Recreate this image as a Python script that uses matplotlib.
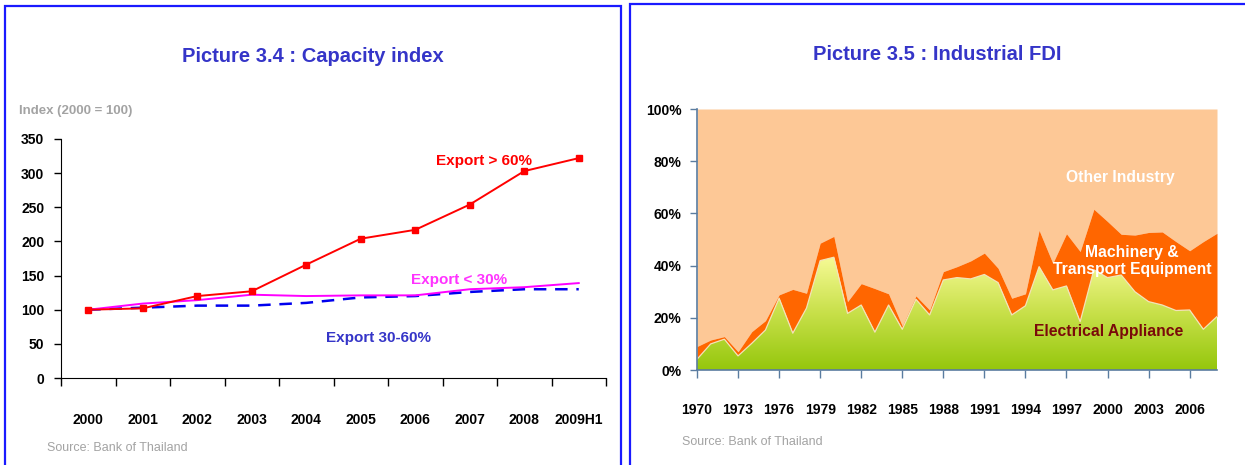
import numpy as np
import matplotlib
matplotlib.use("Agg")
import matplotlib.pyplot as plt
from matplotlib.colors import LinearSegmentedColormap
from matplotlib.patches import Rectangle

plt.rcParams['font.family'] = ['Liberation Sans', 'DejaVu Sans']

# capacity index (2000 = 100)
cap_years = ['2000', '2001', '2002', '2003', '2004', '2005', '2006', '2007', '2008', '2009H1']
export_over_60 = [100, 102, 120, 127, 166, 204, 217, 254, 303, 322]
export_under_30 = [100, 109, 114, 122, 120, 121, 121, 130, 133, 139]
export_30_60 = [100, 103, 106, 106, 110, 118, 120, 126, 130, 130]

# industrial FDI shares (%)
fdi_years = list(range(1970, 2009))
electrical = [4.1, 10.0, 11.8, 5.4, 10.2, 15.3, 27.5, 14.1, 23.7, 41.9,
              43.2, 21.7, 24.9, 14.5, 24.9, 15.6, 27.1, 21.1, 34.5, 35.4,
              34.9, 36.6, 33.5, 21.1, 24.6, 39.6, 30.7, 32.2, 18.5, 38.4,
              35.4, 36.4, 30.0, 26.2, 24.9, 22.8, 23.0, 15.6, 20.5]
machinery_top = [9.0, 11.5, 12.8, 7.0, 14.7, 18.9, 28.8, 30.9, 29.4, 48.6,
                 51.2, 26.2, 33.1, 31.2, 29.2, 16.9, 28.4, 23.0, 37.7, 39.6,
                 41.8, 44.8, 39.0, 27.5, 29.2, 53.5, 40.9, 52.2, 45.4, 61.6,
                 56.9, 52.0, 51.7, 52.7, 52.9, 49.2, 45.7, 49.2, 52.4]

TITLE_BLUE = '#3535c8'
GREY = '#a3a3a3'

fig = plt.figure(figsize=(12.45, 4.65), dpi=100)

# panel frames
fig.patches.append(Rectangle((5 / 1245, -0.1), 616 / 1245, 1.1 - 6 / 465,
                             transform=fig.transFigure, fill=False,
                             edgecolor='#1a1aff', lw=1.6))
fig.patches.append(Rectangle((630 / 1245, -0.1), 0.6, 1.1 - 4 / 465,
                             transform=fig.transFigure, fill=False,
                             edgecolor='#1a1aff', lw=1.6))

# ---- left: capacity index
ax = fig.add_axes([61 / 1245, 1 - 378 / 465, 545 / 1245, 239 / 465])
x = np.arange(len(cap_years))
ax.plot(x, export_30_60, color='#0000ee', lw=1.8, dashes=(5, 3.5))
ax.plot(x, export_under_30, color='#ff00ff', lw=1.4)
ax.plot(x, export_over_60, color='#ff0000', lw=1.4, marker='s', ms=4.5)

ax.set_xlim(-0.5, len(cap_years) - 0.5)
ax.set_ylim(0, 350)
ax.set_yticks(range(0, 351, 50))
ax.set_xticks(np.arange(-0.5, len(cap_years), 1))
ax.set_xticklabels([])
ax.set_xticks(x, minor=True)
ax.set_xticklabels(cap_years, minor=True)
ax.tick_params(axis='x', which='major', direction='out', length=6, width=1)
ax.tick_params(axis='x', which='minor', length=0, pad=25)
ax.tick_params(axis='y', direction='out', length=5, width=1, pad=7)
for lab in ax.get_xticklabels(minor=True) + ax.get_yticklabels():
    lab.set_fontsize(10)
    lab.set_fontweight('bold')
for s in ['top', 'right']:
    ax.spines[s].set_visible(False)

ax.text(7.26, 318, 'Export > 60%', color='#ff0000', fontsize=11, fontweight='bold',
        ha='center', va='center')
ax.text(6.80, 143, 'Export < 30%', color='#ff33ff', fontsize=11, fontweight='bold',
        ha='center', va='center')
ax.text(5.32, 58, 'Export 30-60%', color=TITLE_BLUE, fontsize=11, fontweight='bold',
        ha='center', va='center')

fig.text(313 / 1245, 1 - 56 / 465, 'Picture 3.4 : Capacity index', color=TITLE_BLUE,
         fontsize=14.5, fontweight='bold', ha='center', va='center')
fig.text(19 / 1245, 1 - 111 / 465, 'Index (2000 = 100)', color=GREY,
         fontsize=9.5, fontweight='bold', ha='left', va='center')
fig.text(47 / 1245, 1 - 448 / 465, 'Source: Bank of Thailand', color=GREY,
         fontsize=9, ha='left', va='center')

# ---- right: industrial FDI
ax2 = fig.add_axes([697 / 1245, 1 - 370 / 465, 520 / 1245, 261 / 465])
yrs = np.array(fdi_years)
ax2.fill_between(yrs, machinery_top, 100, color='#fdc896', lw=0)
ax2.fill_between(yrs, electrical, machinery_top, color='#ff6600', lw=0)
green = ax2.fill_between(yrs, 0, electrical, color='none', lw=0)
cmap = LinearSegmentedColormap.from_list('appl', ['#95c70c', '#c8e04a', '#f8fb98'])
grad = np.linspace(0, 1, 256).reshape(-1, 1)
img = ax2.imshow(grad, cmap=cmap, origin='lower', aspect='auto',
                 extent=[yrs[0], yrs[-1], 0, 44], zorder=2)
img.set_clip_path(green.get_paths()[0], transform=ax2.transData)
ax2.plot(yrs, electrical, color='#f4e2b8', lw=0.9, zorder=3)

ax2.set_xlim(yrs[0], yrs[-1])
ax2.set_ylim(0, 100)
ax2.set_yticks(range(0, 101, 20))
ax2.set_yticklabels(['%d%%' % v for v in range(0, 101, 20)])
ax2.set_xticks(range(1970, 2007, 3))
ax2.tick_params(axis='x', direction='out', length=6, width=1, color='#5a7ca0', pad=18)
ax2.tick_params(axis='y', direction='out', length=5, width=1, color='#5a7ca0', pad=6)
for lab in ax2.get_xticklabels() + ax2.get_yticklabels():
    lab.set_fontsize(10)
    lab.set_fontweight('bold')
for s in ['top', 'right']:
    ax2.spines[s].set_visible(False)
for s in ['left', 'bottom']:
    ax2.spines[s].set_color('#5a7ca0')
    ax2.spines[s].set_linewidth(1.2)
    ax2.spines[s].set_zorder(5)

ax2.text(2000.9, 73.9, 'Other Industry', color='white', fontsize=11.3,
         fontweight='bold', ha='center', va='center', zorder=6)
ax2.text(2001.8, 45.0, 'Machinery &', color='white', fontsize=11.3,
         fontweight='bold', ha='center', va='center', zorder=6)
ax2.text(2001.8, 38.6, 'Transport Equipment', color='white', fontsize=11.3,
         fontweight='bold', ha='center', va='center', zorder=6)
ax2.text(2000.1, 14.9, 'Electrical Appliance', color='#7a0a0a', fontsize=11.3,
         fontweight='bold', ha='center', va='center', zorder=6)

fig.text(937 / 1245, 1 - 54 / 465, 'Picture 3.5 : Industrial FDI', color=TITLE_BLUE,
         fontsize=14.5, fontweight='bold', ha='center', va='center')
fig.text(682 / 1245, 1 - 442 / 465, 'Source: Bank of Thailand', color=GREY,
         fontsize=9, ha='left', va='center')

fig.savefig('out.png', dpi=100)
